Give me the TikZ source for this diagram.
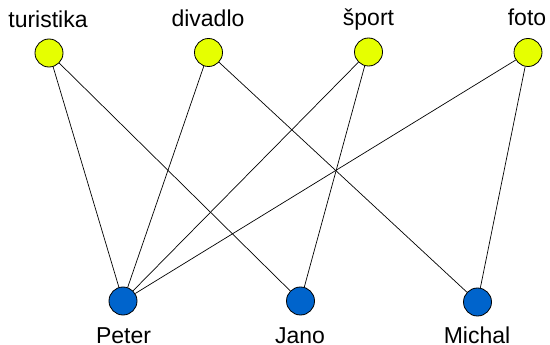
\documentclass[tikz,border=0pt]{standalone}
\usepackage{fontspec}
\setmainfont{Liberation Sans}
\definecolor{topyellow}{RGB}{230,255,0}
\definecolor{botblue}{RGB}{0,100,204}
\begin{document}
\begin{tikzpicture}[x=1pt,y=-1pt,
  vtx/.style={circle,draw=black,line width=0.8pt,minimum size=28pt,inner sep=0pt},
  topv/.style={vtx,fill=topyellow},
  botv/.style={vtx,fill=botblue},
  lbl/.style={anchor=base,inner sep=0pt,font=\fontsize{23}{27}\selectfont},
  edge/.style={draw=black,line width=0.7pt}]
\useasboundingbox (0,0) rectangle (550,345);
\node[topv] (tur) at (49,53) {};
\node[topv] (div) at (208.5,52.5) {};
\node[topv] (spo) at (368.5,52) {};
\node[topv] (fot) at (528,52.5) {};
\node[botv] (pet) at (123,301) {};
\node[botv] (jan) at (300.5,301) {};
\node[botv] (mic) at (477.5,302) {};
\node[lbl] (ltur) at (48,28) {turistika};
\node[lbl] (ldiv) at (208,27) {divadlo};
\node[lbl] (lspo) at (368.5,26) {šport};
\node[lbl] (lfot) at (527,26) {foto};
\node[lbl] (lpet) at (123.5,343) {Peter};
\node[lbl] (ljan) at (300,343) {Jano};
\node[lbl] (lmic) at (477,343.5) {Michal};
\draw[edge] (tur) -- (pet);
\draw[edge] (tur) -- (jan);
\draw[edge] (div) -- (pet);
\draw[edge] (div) -- (mic);
\draw[edge] (spo) -- (pet);
\draw[edge] (spo) -- (jan);
\draw[edge] (fot) -- (pet);
\draw[edge] (fot) -- (mic);
\end{tikzpicture}
\end{document}
